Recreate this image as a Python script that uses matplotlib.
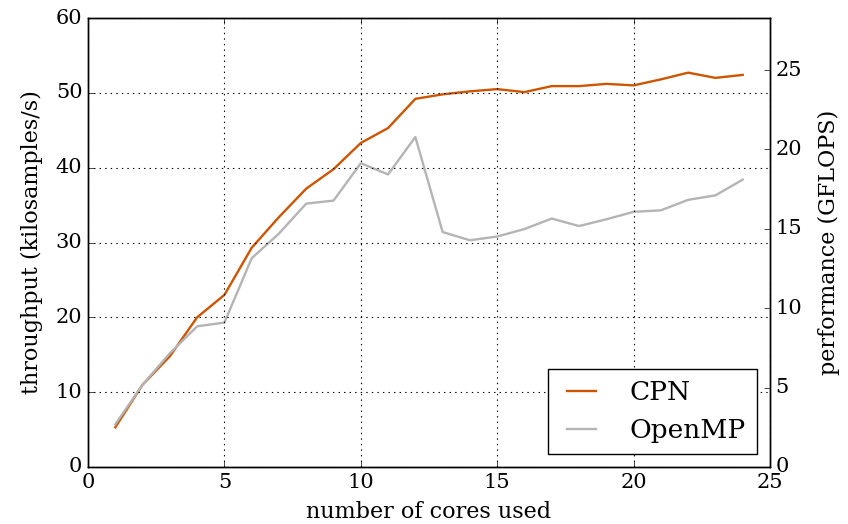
import matplotlib
matplotlib.use("Agg")
import matplotlib.pyplot as plt

plt.style.use("classic")
plt.rcParams["font.family"] = "DejaVu Serif"
plt.rcParams["figure.facecolor"] = "white"
plt.rcParams["savefig.facecolor"] = "white"

cores = list(range(1, 25))
cpn = [5.3, 11.0, 14.8, 20.0, 23.0, 29.3, 33.4, 37.2, 39.8, 43.3, 45.3, 49.2,
       49.8, 50.2, 50.5, 50.1, 50.9, 50.9, 51.2, 51.0, 51.8, 52.7, 52.0, 52.4]
openmp = [5.7, 11.0, 15.2, 18.8, 19.3, 27.9, 31.2, 35.2, 35.6, 40.6, 39.1, 44.1,
          31.4, 30.3, 30.8, 31.8, 33.2, 32.2, 33.1, 34.1, 34.3, 35.7, 36.3, 38.4]

# throughput -> GFLOPS scale used for the right axis
gflops_per_ks = 0.4713

fig = plt.figure(figsize=(8.48, 5.24), dpi=100)
ax = fig.add_axes([0.1038, 0.1088, 0.8042, 0.8568])

ax.plot(cores, cpn, color="#cc5500", lw=1.7, label="CPN")
ax.plot(cores, openmp, color="#b4b4b4", lw=1.7, label="OpenMP")

ax.set_xlim(0, 25)
ax.set_ylim(0, 60)
ax.grid(True, color="black", linestyle=":", linewidth=0.8)
ax.set_xlabel("number of cores used", fontsize=16, labelpad=7)
ax.set_ylabel("throughput (kilosamples/s)", fontsize=16, labelpad=9)
ax.tick_params(labelsize=15, direction="in", right=False)

ax2 = ax.twinx()
ax2.set_ylim(0, 60 * gflops_per_ks)
ax2.set_yticks([0, 5, 10, 15, 20, 25])
ax2.set_ylabel("performance (GFLOPS)", fontsize=16, labelpad=11)
ax2.tick_params(labelsize=15, direction="in")

leg = ax.legend(loc="lower right", fontsize=19, fancybox=False, frameon=True,
                borderaxespad=0.5, handlelength=1.7, handletextpad=1.0)
leg.get_frame().set_edgecolor("black")

fig.savefig("out.png", dpi=100)
